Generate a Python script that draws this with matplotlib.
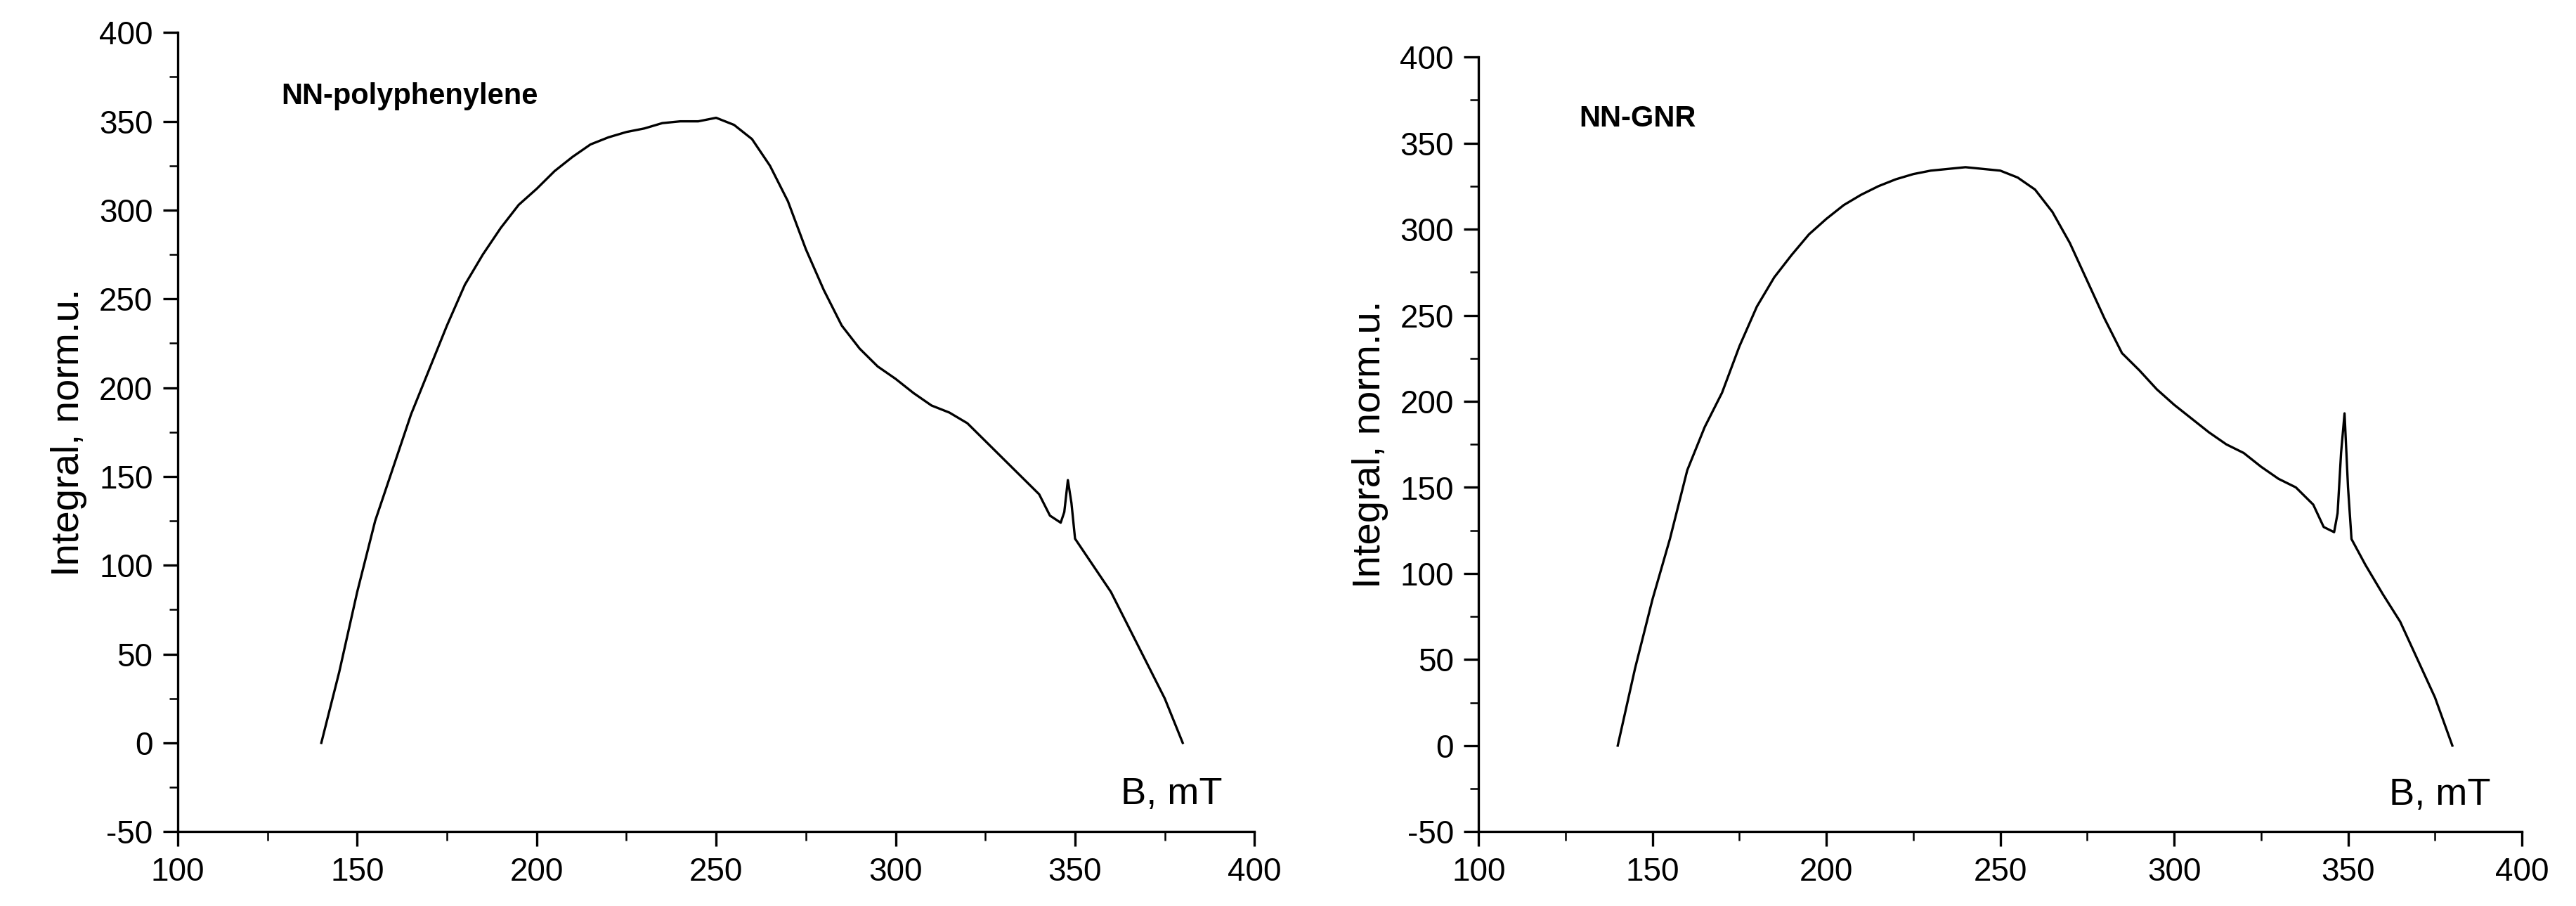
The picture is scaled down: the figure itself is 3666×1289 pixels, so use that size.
import matplotlib
matplotlib.use("Agg")
import matplotlib.pyplot as plt
from matplotlib.ticker import MultipleLocator

plt.rcParams['font.family'] = ['Liberation Sans', 'DejaVu Sans']
plt.rcParams['axes.unicode_minus'] = False

# NN-polyphenylene
b_left = [140, 145, 150, 155, 160, 165, 170, 175, 180, 185, 190, 195, 200, 205, 210, 215,
          220, 225, 230, 235, 240, 245, 250, 255, 260, 265, 270, 275, 280, 285, 290, 295,
          300, 305, 310, 315, 320, 325, 330, 335, 340, 343, 346, 347, 348, 349, 350, 355,
          360, 365, 370, 375, 380]
i_left = [0, 40, 85, 125, 155, 185, 210, 235, 258, 275, 290, 303, 312, 322, 330, 337,
          341, 344, 346, 349, 350, 350, 352, 348, 340, 325, 305, 278, 255, 235, 222, 212,
          205, 197, 190, 186, 180, 170, 160, 150, 140, 128, 124, 130, 148, 135, 115, 100,
          85, 65, 45, 25, 0]

# NN-GNR
b_right = [140, 145, 150, 155, 160, 165, 170, 175, 180, 185, 190, 195, 200, 205, 210, 215,
           220, 225, 230, 235, 240, 245, 250, 255, 260, 265, 270, 275, 280, 285, 290, 295,
           300, 305, 310, 315, 320, 325, 330, 335, 340, 343, 346, 347, 348, 349, 350, 351,
           355, 360, 365, 370, 375, 380]
i_right = [0, 45, 85, 120, 160, 185, 205, 232, 255, 272, 285, 297, 306, 314, 320, 325,
           329, 332, 334, 335, 336, 335, 334, 330, 323, 310, 292, 270, 248, 228, 218, 207,
           198, 190, 182, 175, 170, 162, 155, 150, 140, 127, 124, 135, 170, 193, 150, 120,
           105, 88, 72, 50, 28, 0]

fig = plt.figure(figsize=(12.22, 4.297), dpi=300)
ax1 = fig.add_axes([0.069, 0.082, 0.418, 0.882])
ax2 = fig.add_axes([0.574, 0.082, 0.405, 0.855])

for ax, b, y, name in [(ax1, b_left, i_left, "NN-polyphenylene"),
                       (ax2, b_right, i_right, "NN-GNR")]:
    ax.plot(b, y, color='black', linewidth=0.8)
    ax.set_xlim(100, 400)
    ax.set_ylim(-50, 400)
    ax.xaxis.set_major_locator(MultipleLocator(50))
    ax.xaxis.set_minor_locator(MultipleLocator(25))
    ax.yaxis.set_major_locator(MultipleLocator(50))
    ax.yaxis.set_minor_locator(MultipleLocator(25))
    ax.spines['top'].set_visible(False)
    ax.spines['right'].set_visible(False)
    ax.tick_params(which='both', direction='out', labelsize=11)
    ax.tick_params(which='major', length=5)
    ax.tick_params(which='minor', length=3)
    ax.set_ylabel("Integral, norm.u.", fontsize=13.5)
    ax.text(0.97, 0.025, "B, mT", transform=ax.transAxes, ha='right', va='bottom', fontsize=13)
    ax.text(0.096, 0.92, name, transform=ax.transAxes, va='center', fontsize=10, fontweight='bold')

fig.savefig("out.png", dpi=300)
